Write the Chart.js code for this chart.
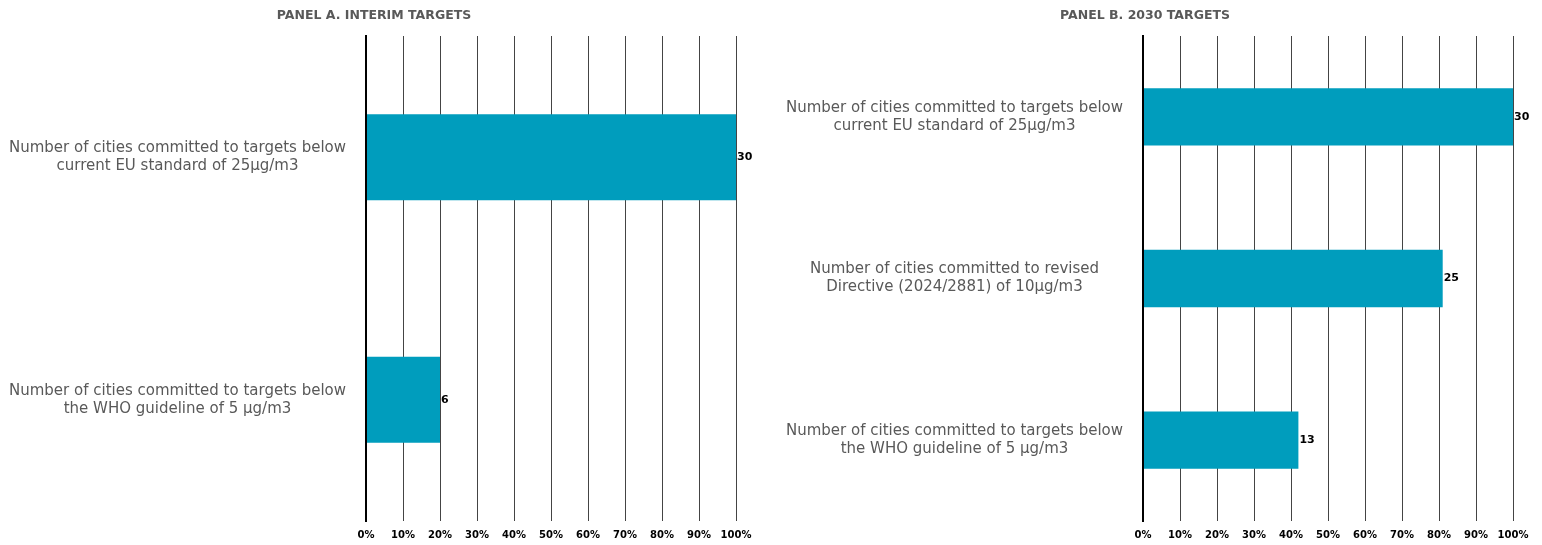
<!DOCTYPE html>
<html>
<head>
<meta charset="utf-8">
<script src="https://cdn.jsdelivr.net/npm/chart.js@4"></script>
<style>
  body { margin: 0; background: #fff; }
  .panel { position: absolute; top: 0; height: 545px; }
  #panelA { left: 0; width: 752px; }
  #panelB { left: 762px; width: 767px; }
  .panel-title {
    position: absolute; top: 6px; width: 400px; text-align: center;
    font: bold 12.5px/18px 'DejaVu Sans'; color: #595959; white-space: nowrap;
  }
  #titleA { left: 174px; }
  #titleB { left: 945px; }
</style>
</head>
<body>
<div class="panel" id="panelA"><canvas id="chartA"></canvas></div>
<div class="panel" id="panelB"><canvas id="chartB"></canvas></div>
<div class="panel-title" id="titleA"></div>
<div class="panel-title" id="titleB"></div>
<script>
// --- Data ---
const panelATitle = "PANEL A. INTERIM TARGETS";
const panelALabels = [
    ["Number of cities committed to targets below", "current EU standard of 25µg/m3"],
    ["Number of cities committed to targets below", "the WHO guideline of 5 µg/m3"]
];
const panelACounts = [30, 6];
const panelAShares = [100, 20];

const panelBTitle = "PANEL B. 2030 TARGETS";
const panelBLabels = [
    ["Number of cities committed to targets below", "current EU standard of 25µg/m3"],
    ["Number of cities committed to revised", "Directive (2024/2881) of 10µg/m3"],
    ["Number of cities committed to targets below", "the WHO guideline of 5 µg/m3"]
];
const panelBCounts = [30, 25, 13];
const panelBShares = [100, 81, 42];

const xTicks = [0, 10, 20, 30, 40, 50, 60, 70, 80, 90, 100];

const barColor = "#009dbd";
const labelGrey = "#595959";

document.getElementById("titleA").textContent = panelATitle;
document.getElementById("titleB").textContent = panelBTitle;

// --- Count labels at the end of each bar ---
const countLabels = {
    id: "countLabels",
    afterDatasetsDraw(chart, args, opts) {
        const ctx = chart.ctx;
        const meta = chart.getDatasetMeta(0);
        ctx.save();
        ctx.font = "bold 11px 'DejaVu Sans'";
        ctx.fillStyle = "#000";
        ctx.textAlign = "left";
        ctx.textBaseline = "middle";
        meta.data.forEach((bar, i) => {
            ctx.fillText(String(opts.counts[i]), bar.x + 1, bar.y);
        });
        ctx.restore();
    }
};

function makePanel(canvasId, labels, shares, counts, axisWidth) {
    return new Chart(document.getElementById(canvasId), {
        type: "bar",
        data: {
            labels: labels,
            datasets: [{
                data: shares,
                backgroundColor: barColor,
                borderWidth: 0,
                categoryPercentage: 1,
                barPercentage: 0.355
            }]
        },
        options: {
            indexAxis: "y",
            responsive: true,
            maintainAspectRatio: false,
            animation: false,
            layout: { padding: { top: 36, bottom: 4, right: 16, left: 0 } },
            plugins: {
                legend: { display: false },
                tooltip: { enabled: false },
                countLabels: { counts: counts }
            },
            scales: {
                x: {
                    min: 0,
                    max: 100,
                    afterBuildTicks: scale => { scale.ticks = xTicks.map(v => ({ value: v })); },
                    afterFit: scale => {
                        scale.height = 20;
                        scale.paddingLeft = 0;
                        scale.paddingRight = 0;
                    },
                    grid: {
                        color: c => c.tick && c.tick.value === 0 ? "#000" : "#444",
                        lineWidth: c => c.tick && c.tick.value === 0 ? 2 : 1,
                        drawTicks: false
                    },
                    border: { display: false },
                    ticks: {
                        padding: 8,
                        color: "#000",
                        font: { family: "'DejaVu Sans'", size: 10, weight: "bold" },
                        callback: v => v + "%"
                    }
                },
                y: {
                    afterFit: scale => {
                        scale.width = axisWidth;
                        scale.paddingTop = 0;
                        scale.paddingBottom = 0;
                    },
                    grid: { display: false, drawTicks: false },
                    border: { display: true, color: "#000", width: 2 },
                    ticks: {
                        crossAlign: "center",
                        padding: 20,
                        color: labelGrey,
                        font: { family: "'DejaVu Sans'", size: 15, lineHeight: 1.2 }
                    }
                }
            }
        },
        plugins: [countLabels]
    });
}

makePanel("chartA", panelALabels, panelAShares, panelACounts, 366);
makePanel("chartB", panelBLabels, panelBShares, panelBCounts, 381);
</script>
</body>
</html>
